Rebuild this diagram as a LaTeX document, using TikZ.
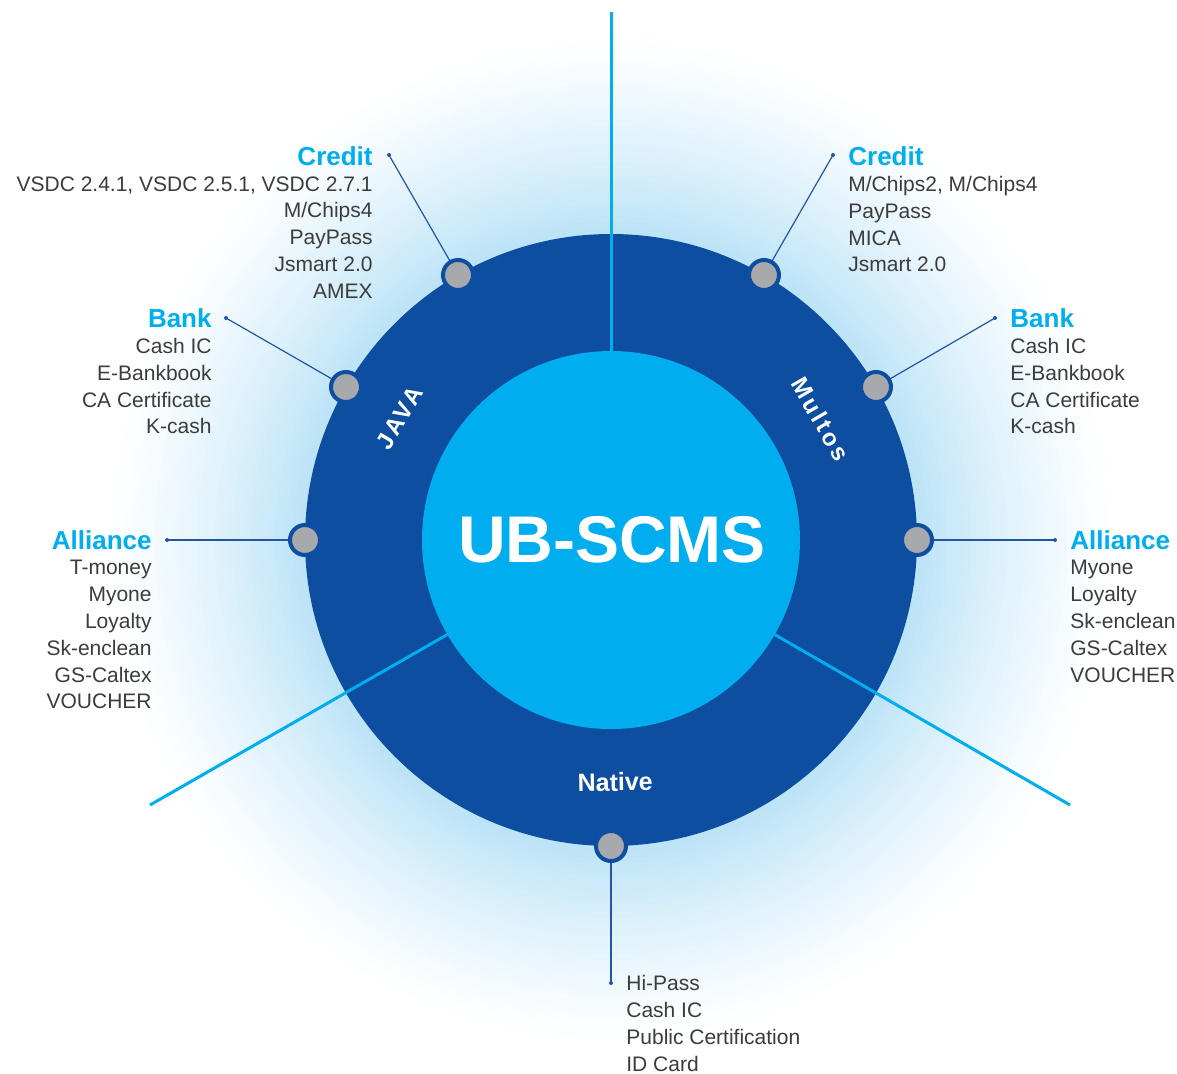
\documentclass[tikz,border=0pt]{standalone}
\usepackage{fontspec}
\setmainfont{Liberation Sans}
\usetikzlibrary{positioning}

\definecolor{ringblue}{RGB}{13,78,160}
\definecolor{coreblue}{RGB}{0,174,239}
\definecolor{dotgray}{RGB}{167,169,172}
\definecolor{txtgray}{RGB}{60,60,60}
\definecolor{glowblue}{RGB}{188,227,247}
\definecolor{leaderblue}{RGB}{35,85,165}

\tikzset{
  dot/.style={circle, fill=dotgray, draw=ringblue, line width=2pt, minimum size=15pt, inner sep=0},
  leader/.style={draw=leaderblue, line width=0.6pt},
  tip/.style={fill=leaderblue},
  splitline/.style={draw=coreblue, line width=1.5pt},
  head/.style={font=\fontsize{13}{15}\selectfont\bfseries, text=coreblue, inner sep=0},
  items/.style={font=\fontsize{10.5}{13.4}\selectfont, text=txtgray, inner sep=0},
  ringlabel/.style={font=\fontsize{12}{14}\selectfont\bfseries\addfontfeatures{LetterSpace=12}, text=white, inner sep=0}
}

\begin{document}
\begin{tikzpicture}[x=0.5pt,y=0.5pt]
  \clip (-611,-533) rectangle (566,540);
  \fill[white] (-611,-533) rectangle (566,540);
  % glow round the ring
  \foreach \r in {510,504,...,310} {
    \pgfmathsetmacro\p{100*((510-\r)/200)^1.3}
    \fill[glowblue!\p!white] (0,0) circle (\r);
  }

  % ring and core
  \fill[ringblue] (0,0) circle (306);
  \node[circle, fill=coreblue, minimum size=189pt, inner sep=0] (core) at (0,0) {};
  \node[font=\fontsize{33}{36}\selectfont\bfseries, text=white] (name) at (1,0) {UB-SCMS};

  % sector borders
  \draw[splitline] (90:189) -- (0,528);
  \draw[splitline] (210:189) -- (-461,-265);
  \draw[splitline] (330:189) -- (459,-265);

  \node[ringlabel, rotate=60] (java) at (150:244) {JAVA};
  \node[ringlabel, rotate=-60] (multos) at (30:242) {Multos};
  \node[ringlabel, font=\fontsize{12.5}{14}\selectfont\bfseries, rotate=1] (native) at (271:242) {Native};

  % leader ends
  \coordinate (jc-end) at (-222,385);
  \coordinate (jb-end) at (-385,222);
  \coordinate (ja-end) at (-444,0);
  \coordinate (mc-end) at (222,385);
  \coordinate (mb-end) at (384,222);
  \coordinate (ma-end) at (444,0);
  \coordinate (nv-end) at (0,-443);

  \foreach \d/\a in {jc/120, jb/150, ja/180, mc/60, mb/30, ma/0, nv/270} {
    \draw[leader] (\a:306) -- (\d-end);
    \fill[tip] (\d-end) circle (2);
    \node[dot] (\d) at (\a:306) {};
  }

  % JAVA side
  \node[head, anchor=east] (jc-head) at (-238,384) {Credit};
  \node[items, align=right, below=5pt of jc-head.south east, anchor=north east] (jc-list)
    {VSDC 2.4.1, VSDC 2.5.1, VSDC 2.7.1\\M/Chips4\\PayPass\\Jsmart 2.0\\AMEX};
  \node[head, anchor=east] (jb-head) at (-399,222) {Bank};
  \node[items, align=right, below=5pt of jb-head.south east, anchor=north east] (jb-list)
    {Cash IC\\E-Bankbook\\CA Certificate\\K-cash};
  \node[head, anchor=east] (ja-head) at (-459,0) {Alliance};
  \node[items, align=right, below=5pt of ja-head.south east, anchor=north east] (ja-list)
    {T-money\\Myone\\Loyalty\\Sk-enclean\\GS-Caltex\\VOUCHER};

  % Multos side
  \node[head, anchor=west] (mc-head) at (237,384) {Credit};
  \node[items, align=left, below=5pt of mc-head.south west, anchor=north west] (mc-list)
    {M/Chips2, M/Chips4\\PayPass\\MICA\\Jsmart 2.0};
  \node[head, anchor=west] (mb-head) at (399,222) {Bank};
  \node[items, align=left, below=5pt of mb-head.south west, anchor=north west] (mb-list)
    {Cash IC\\E-Bankbook\\CA Certificate\\K-cash};
  \node[head, anchor=west] (ma-head) at (459,0) {Alliance};
  \node[items, align=left, below=5pt of ma-head.south west, anchor=north west] (ma-list)
    {Myone\\Loyalty\\Sk-enclean\\GS-Caltex\\VOUCHER};

  % Native
  \node[items, align=left, anchor=north west] (nv-list) at (15,-435)
    {Hi-Pass\\Cash IC\\Public Certification\\ID Card};
\end{tikzpicture}
\end{document}
